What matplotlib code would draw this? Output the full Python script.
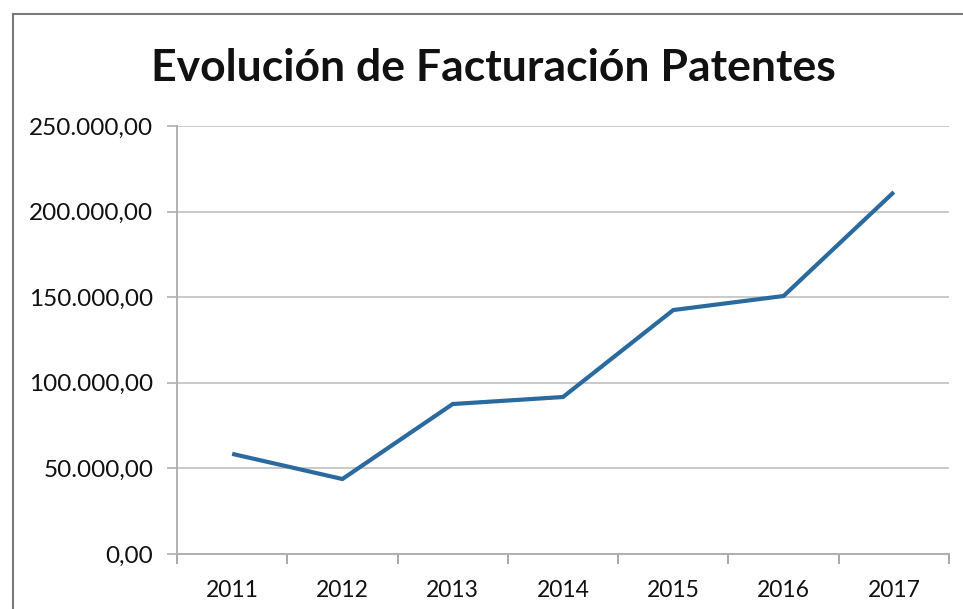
import matplotlib
matplotlib.use("Agg")
import matplotlib.pyplot as plt
from matplotlib.lines import Line2D
from matplotlib.ticker import FuncFormatter

years = ["2011", "2012", "2013", "2014", "2015", "2016", "2017"]
facturacion = [58500, 43800, 87600, 91700, 142500, 150700, 211400]
y_ticks = [0, 50000, 100000, 150000, 200000, 250000]
title = "Evolución de Facturación Patentes"

plt.rcParams['font.family'] = ['Lato', 'DejaVu Sans']

W, H = 963, 609
fig = plt.figure(figsize=(W / 100, H / 100), dpi=100)
fig.patch.set_facecolor("white")

ax = fig.add_axes([177 / W, 1 - 554 / H, (949 - 177) / W, (554 - 126) / H])
ax.set_facecolor("none")

x = list(range(len(years)))
ax.plot(x, facturacion, color="#2b6a9e", lw=3.0, solid_capstyle="butt", solid_joinstyle="miter", zorder=3)

ax.set_xlim(-0.5, len(years) - 0.5)
ax.set_ylim(0, 250000)
ax.set_yticks(y_ticks)

def fmt(v, pos):
    s = f"{v:,.2f}"
    return s.replace(",", "X").replace(".", ",").replace("X", ".")

ax.yaxis.set_major_formatter(FuncFormatter(fmt))
ax.grid(axis="y", color="#c9c9c9", lw=1.4, zorder=0)
ax.tick_params(axis="y", length=7, width=1.2, color="#b0b0b0", labelsize=17.5, labelcolor="#111111", pad=10)

ax.set_xticks([i - 0.5 for i in range(len(years) + 1)])
ax.set_xticklabels([])
ax.set_xticks(x, minor=True)
ax.set_xticklabels(years, minor=True)
ax.tick_params(axis="x", which="major", length=7, width=1.2, color="#9a9a9a")
ax.tick_params(axis="x", which="minor", length=0, labelsize=16.5, labelcolor="#111111", pad=19)

for side in ["top", "right"]:
    ax.spines[side].set_visible(False)
ax.spines["left"].set_color("#b0b0b0")
ax.spines["left"].set_linewidth(1.4)
ax.spines["bottom"].set_color("#b0b0b0")
ax.spines["bottom"].set_linewidth(1.4)

fig.text(493 / W, 1 - 68 / H, title, ha="center", va="center", fontsize=32, fontweight="bold", color="#111111")

# outer chart frame (left and top edges)
fig.add_artist(Line2D([13 / W, 13 / W], [0, 1 - 14 / H], transform=fig.transFigure, color="#7a7a7a", lw=1.5))
fig.add_artist(Line2D([13 / W, 1], [1 - 14 / H, 1 - 14 / H], transform=fig.transFigure, color="#7a7a7a", lw=1.5))

fig.savefig("out.png", dpi=100)
